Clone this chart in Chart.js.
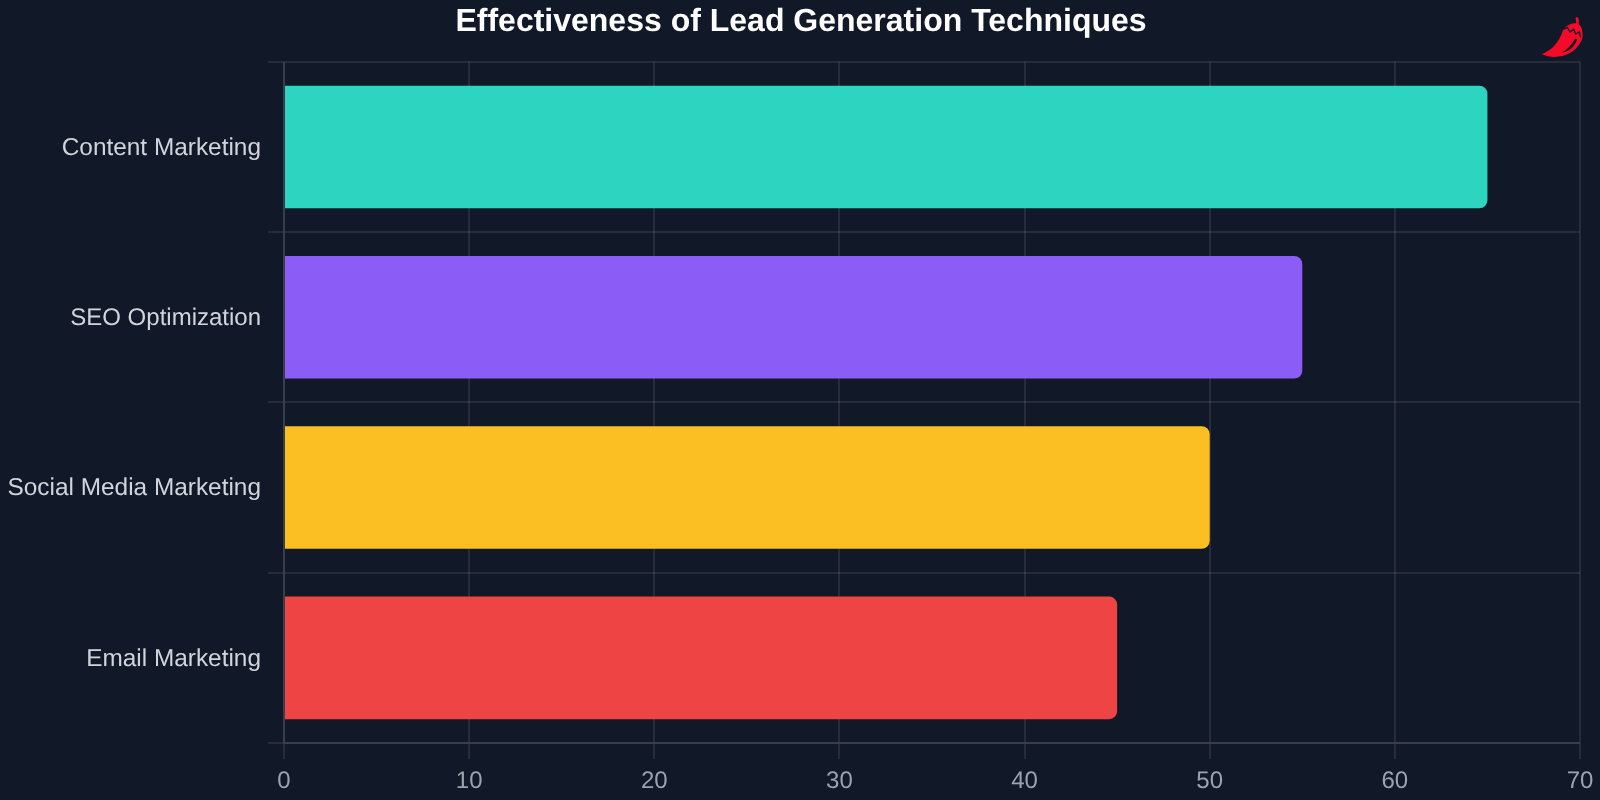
<!DOCTYPE html>
<html>
<head>
<meta charset="utf-8">
<style>
html,body{margin:0;padding:0;background:#111827;width:1600px;height:800px;overflow:hidden}
#wrap{position:relative;width:1600px;height:800px}
canvas{display:block}
#logo{position:absolute;left:1480px;top:0;width:120px;height:80px}
</style>
<script src="https://cdn.jsdelivr.net/npm/chart.js@4"></script>
</head>
<body>
<div id="wrap">
<canvas id="c" width="1600" height="800"></canvas>
<svg id="logo" viewBox="0 0 360 240">
<path fill="#f50a2a" d="M185 162C212 152 232 132 244 104C249 88 256 76 275 71C283 69 288 70 289 70C289 64 286 58 287 53C290 50 295 52 296 56C297 62 296 68 296 73C304 78 308 92 308 108C306 126 290 148 268 160C246 172 212 176 185 162Z"/>
<path fill="none" stroke="#111827" stroke-width="4" d="M250 88L262 82L270 96L281 88L287 102L298 96L302 112"/>
<path fill="#111827" d="M245 158C262 148 276 134 285 116L292 118C284 140 266 156 245 158Z"/>
</svg>
</div>
<script>
const chartTitle = 'Effectiveness of Lead Generation Techniques';
const categories = ['Content Marketing', 'SEO Optimization', 'Social Media Marketing', 'Email Marketing'];
const values = [65, 55, 50, 45];
const barColors = ['#2dd4bf', '#8b5cf6', '#fbbf24', '#ef4444'];
const gridColor = 'rgba(255,255,255,0.09)';
const fontFamily = '"Liberation Sans", Arial, sans-serif';

const textPlugin = {
  id: 'textPrecision',
  beforeLayout(chart) { chart.ctx.textRendering = 'geometricPrecision'; chart.ctx.fontKerning = 'normal'; },
  beforeDraw(chart) { chart.ctx.textRendering = 'geometricPrecision'; chart.ctx.fontKerning = 'normal'; }
};

new Chart(document.getElementById('c'), {
  type: 'bar',
  plugins: [textPlugin],
  data: {
    labels: categories,
    datasets: [{
      data: values,
      backgroundColor: barColors,
      borderRadius: 8,
      barPercentage: 0.9,
      categoryPercentage: 0.8
    }]
  },
  options: {
    indexAxis: 'y',
    responsive: false,
    animation: false,
    devicePixelRatio: 1,
    layout: { padding: { left: 2, right: 0, top: 0, bottom: 0 } },
    plugins: {
      legend: { display: false },
      tooltip: { enabled: false },
      title: {
        display: true,
        text: chartTitle,
        color: '#ffffff',
        font: { family: fontFamily, size: 32, weight: 'bold', lineHeight: 1.2 },
        padding: { top: 3, bottom: 20.4 }
      }
    },
    scales: {
      x: {
        min: 0,
        max: 70,
        ticks: { stepSize: 10, color: '#9ca3af', padding: 8, maxRotation: 0,
                 font: { family: fontFamily, size: 24 } },
        grid: { color: gridColor, lineWidth: 2, tickLength: 16 },
        border: { color: gridColor, width: 2 },
        afterFit(s) { s.height = 57; s.paddingRight = 20; }
      },
      y: {
        ticks: { color: '#d1d5db', padding: 7, labelOffset: 1,
                 font: c => ({ family: fontFamily, size: categories[c.index].endsWith('Marketing') ? 24.4 : 24 }) },
        grid: { color: gridColor, lineWidth: 2, tickLength: 16 },
        border: { color: gridColor, width: 2 },
        afterFit(s) { s.width = 282; }
      }
    }
  }
});
</script>
</body>
</html>
